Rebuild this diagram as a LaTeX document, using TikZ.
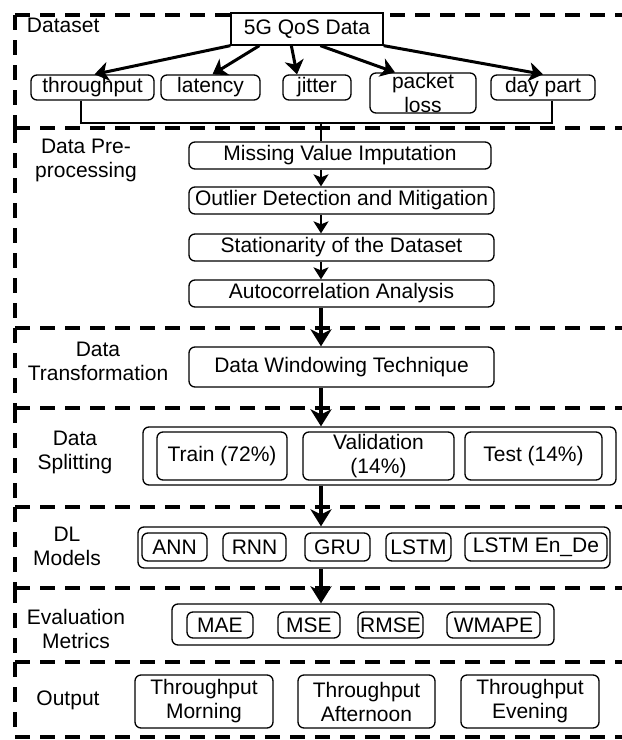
\documentclass[tikz,border=0pt]{standalone}
\usepackage{fontspec}
\setmainfont{Liberation Sans}
\usetikzlibrary{arrows.meta}
\tikzset{every picture/.style={line width=1.3pt}}
\tikzset{
    box/.style={draw, rounded corners=6pt, fill=white, align=center, inner sep=0pt, minimum height=26pt},
    frame/.style={line width=3.3pt, dash pattern={on 15pt off 10pt}},
    dsarr/.style={line width=3pt, -{Stealth[length=14pt, width=19pt, inset=4pt]}},
    arr/.style={line width=2.2pt, -{Stealth[length=12pt, width=15pt, inset=3pt]}},
    flow/.style={line width=3.8pt, -{Stealth[length=17pt, width=21pt, inset=5pt]}},
    lbl/.style={align=center}
}

\begin{document}
\begin{tikzpicture}[x=1pt, y=-1pt, font=\fontsize{21}{24}\selectfont]
    \useasboundingbox (0,0) rectangle (622,740);
    \foreach \y in {15,128,328,408,507,588,662,737} \draw[frame] (15,\y) -- (622,\y);
    \foreach \a/\b in {15/128,128/328,328/408,408/507,507/588,588/662,662/737} \draw[frame] (15,\a) -- (15,\b);
    \coordinate (axis) at (321,0);
    \coordinate (brk) at (321,123);

    \node[lbl, anchor=west] (l1) at (23,25) {Dataset};
    \node[box, rounded corners=0pt, minimum width=152, minimum height=32] (qos) at (307,29) {5G QoS Data};
    \node[box, minimum width=123, minimum height=25] (thr) at (92.5,87.5) {throughput};
    \node[box, minimum width=99, minimum height=25] (lat) at (210.5,87.5) {latency};
    \node[box, minimum width=68, minimum height=25] (jit) at (317,87.5) {jitter};
    \node[box, minimum width=106, minimum height=40] (pl) at (423,93) {packet\\loss};
    \node[box, minimum width=104, minimum height=25] (day) at (543,87.5) {day part};
    \draw[dsarr] (qos.south west) -- ([xshift=2pt]thr.north);
    \draw[dsarr] ([xshift=29pt]qos.south west) -- ([xshift=2pt]lat.north);
    \draw[dsarr] ([xshift=61pt]qos.south west) -- ([xshift=-20pt]jit.north);
    \draw[dsarr] ([xshift=90pt]qos.south west) -- ([xshift=-28pt]pl.north);
    \draw[dsarr] (qos.south east) -- (day.north);
    \draw[line width=2pt] ([xshift=-12pt]thr.south) |- (brk) -| ([xshift=9pt]day.south);

    \node[lbl] (l2) at (86,160) {Data Pre-\\processing};
    \node[box, minimum width=302, minimum height=27] (miss) at (340,155.5) {Missing Value Imputation};
    \node[box, minimum width=305, minimum height=27] (outl) at (341.5,200.5) {Outlier Detection and Mitigation};
    \node[box, minimum width=305, minimum height=27] (stat) at (341.5,247.5) {Stationarity of the Dataset};
    \node[box, minimum width=305, minimum height=27] (auto) at (341.5,293.5) {Autocorrelation Analysis};
    \draw[line width=2pt] (brk) -- (miss.north -| brk);
    \draw[arr] (miss.south -| axis) -- (outl.north -| axis);
    \draw[arr] (outl.south -| axis) -- (stat.north -| axis);
    \draw[arr] (stat.south -| axis) -- (auto.north -| axis);

    \node[lbl] (l3) at (98,361) {Data\\Transformation};
    \node[box, minimum width=305, minimum height=40] (win) at (341.5,367) {Data Windowing Technique};

    \node[lbl] (l4) at (75,452) {Data\\Splitting};
    \node[box, minimum width=473, minimum height=58] (split) at (379.5,456) {};
    \node[box, minimum width=130, minimum height=48] (train) at (222,456) {Train (72\%)};
    \node[box, minimum width=151, minimum height=48] (val) at (378.5,456) {Validation\\(14\%)};
    \node[box, minimum width=137, minimum height=48] (test) at (533.5,456) {Test (14\%)};

    \node[lbl] (l5) at (67,546) {DL\\Models};
    \node[box, minimum width=472, minimum height=41] (dl) at (374,547.5) {};
    \node[box, minimum width=65, minimum height=28] (ann) at (174.5,547) {ANN};
    \node[box, minimum width=63, minimum height=28] (rnn) at (254.5,547) {RNN};
    \node[box, minimum width=65, minimum height=28] (gru) at (337.5,547) {GRU};
    \node[box, minimum width=65, minimum height=28] (lstm) at (418.5,547) {LSTM};
    \node[box, minimum width=142, minimum height=28] (ende) at (536,547) {LSTM En\_De};

    \node[lbl] (l6) at (76,629) {Evaluation\\Metrics};
    \node[box, minimum width=382, minimum height=41] (evm) at (363,624.5) {};
    \node[box, minimum width=66, minimum height=26] (mae) at (220,625) {MAE};
    \node[box, minimum width=62, minimum height=26] (mse) at (309,625) {MSE};
    \node[box, minimum width=65, minimum height=26] (rmse) at (390.5,625) {RMSE};
    \node[box, minimum width=93, minimum height=26] (wmape) at (493.5,625) {WMAPE};

    \node[lbl] (l7) at (68,700) {Output};
    \node[box, minimum width=138, minimum height=53] (morn) at (204,701.5) {Throughput\\Morning};
    \node[box, minimum width=137, minimum height=53] (aft) at (366.5,701.5) {Throughput\\Afternoon};
    \node[box, minimum width=138, minimum height=53] (eve) at (530,701.5) {Throughput\\Evening};

    \draw[flow] (auto.south -| axis) -- (win.north -| axis);
    \draw[flow] (win.south -| axis) -- (split.north -| axis);
    \draw[flow] (split.south -| axis) -- (dl.north -| axis);
    \draw[flow] (dl.south -| axis) -- (evm.north -| axis);
\end{tikzpicture}
\end{document}
